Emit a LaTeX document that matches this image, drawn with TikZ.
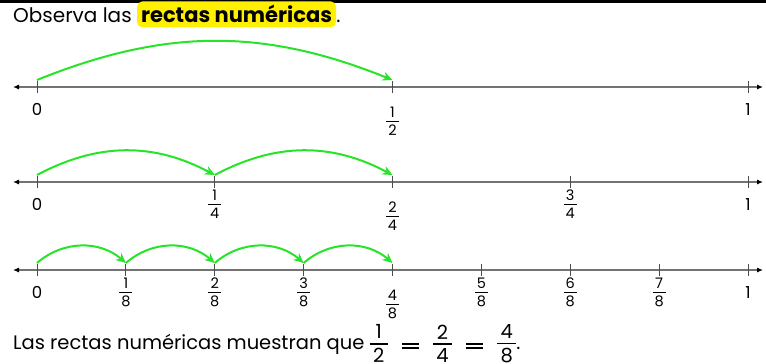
\documentclass[tikz,border=0pt]{standalone}
\usepackage{fontspec}
\setmainfont{Poppins}
\usetikzlibrary{arrows.meta,positioning}

\definecolor{verdesalto}{RGB}{40,228,40}
\definecolor{grisEje}{RGB}{115,115,115}
\definecolor{resalte}{RGB}{255,240,0}
% fraccion apilada: [relleno]{numerador}{denominador}
\newcommand{\fr}[3][2pt]{{\renewcommand{\arraystretch}{0}\setlength{\arrayrulewidth}{0.07em}%
  \begin{tabular}{@{\hspace{#1}}c@{\hspace{#1}}}#2\\[0.22em]\hline\rule{0pt}{0.94em}#3\end{tabular}}}
\newcommand{\igual}{\hspace{14pt}\raisebox{0.3pt}{\rule{17pt}{2pt}}\hspace{-17pt}\raisebox{3.6pt}{\rule{17pt}{2pt}}\hspace{14pt}}

\tikzset{
  recta/.style={grisEje, line width=1.1pt, {Latex[length=6pt,width=5pt,color=black]}-{Latex[length=6pt,width=5pt,color=black]}},
  marca/.style={draw=black!70, line width=1pt},
  entero/.style={font=\fontsize{16.5}{18}\selectfont, inner sep=0pt, anchor=north},
  fraccion/.style={font=\fontsize{14.5}{16}\selectfont, inner sep=0pt, anchor=north},
  brinco/.style={verdesalto, line width=2pt, -{Stealth[length=10pt,width=9pt]}}
}

\begin{document}
\begin{tikzpicture}[x=1pt,y=-1pt]
\useasboundingbox (0,0) rectangle (766,364);
\draw[line width=3pt] (0,1.5) -- (766,1.5);

% titulo
\node[anchor=base west, inner sep=0pt, font=\fontsize{20}{24}\selectfont] (obs) at (13,23) {Observa las};
\node[base right=5pt of obs, fill=resalte, rounded corners=5pt, inner xsep=4pt, inner ysep=4pt, font=\fontsize{21}{24}\selectfont\bfseries] (rectas) {rectas numéricas};
\node[base right=0pt of rectas, inner sep=0pt, font=\fontsize{20}{24}\selectfont] (punto) {.};

% rectas numericas
\foreach \yy/\n/\salta in {87/2/1, 182/4/2, 270/8/4}{
  \draw[recta] (13,\yy) -- (763,\yy);
  \foreach \k in {0,...,\n}{
    \coordinate (t\n-\k) at (37+711*\k/\n,\yy-7);
    \coordinate (b\n-\k) at (37+711*\k/\n,\yy+6);
    \draw[marca] (t\n-\k) ++(0,1) -- (b\n-\k);
    \pgfmathtruncatemacro{\medio}{\n/2}
    \ifnum\k=0
      \node[entero] (e\n-\k) at ([yshift=-10pt]b\n-\k) {0};
    \else\ifnum\k=\n
      \node[entero] (e\n-\k) at ([yshift=-10pt]b\n-\k) {1};
    \else\ifnum\k=\medio
      \node[fraccion] (e\n-\k) at ([yshift=-14pt]b\n-\k) {\fr{\k}{\n}};
    \else
      \node[fraccion] (e\n-\k) at ([yshift=-2pt]b\n-\k) {\fr{\k}{\n}};
    \fi\fi\fi
  }
  \foreach \k in {1,...,\salta}{
    \pgfmathtruncatemacro{\antes}{\k-1}
    \pgfmathsetmacro{\curva}{\n==2 ? 22 : (\n==4 ? 28 : 41)}
    \draw[brinco] (t\n-\antes) to[bend left=\curva] (t\n-\k);
  }
}

% conclusion
\node[anchor=base west, inner sep=0pt, font=\fontsize{19.5}{22}\selectfont] (concl) at (13,349)
  {Las rectas numéricas muestran que \fr[3.5pt]{1}{2}\igual\fr[3.5pt]{2}{4}\igual\fr[3.5pt]{4}{8}.};
\end{tikzpicture}
\end{document}
